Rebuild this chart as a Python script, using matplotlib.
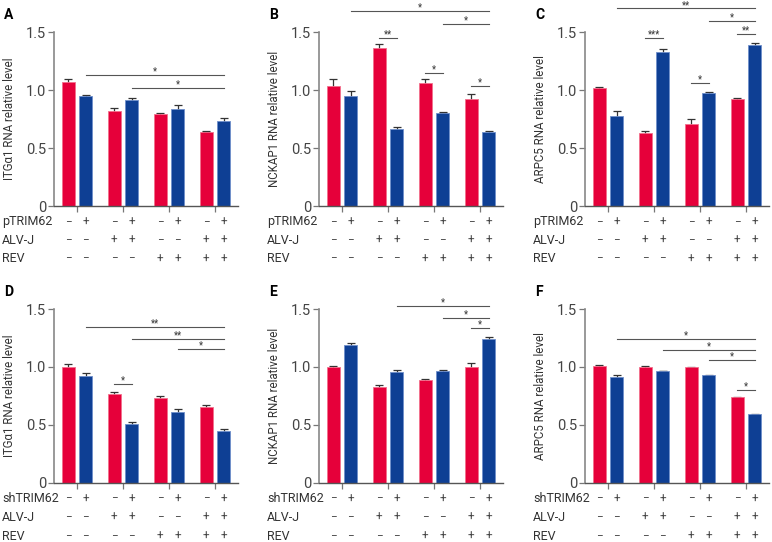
import numpy as np
import matplotlib
matplotlib.use("Agg")
import matplotlib.pyplot as plt

plt.rcParams["font.family"] = ["Roboto", "DejaVu Sans"]

# bar order per panel: G1 red, G1 blue, G2 red, G2 blue, ... (red = -, blue = +)
vals_A = [1.067, 0.949, 0.820, 0.912, 0.789, 0.835, 0.642, 0.734]
errs_A = [0.026, 0.006, 0.029, 0.023, 0.011, 0.037, 0.002, 0.023]
vals_B = [1.035, 0.949, 1.359, 0.662, 1.061, 0.806, 0.923, 0.634]
errs_B = [0.058, 0.040, 0.035, 0.015, 0.032, 0.006, 0.041, 0.014]
vals_C = [1.015, 0.780, 0.628, 1.331, 0.703, 0.972, 0.923, 1.385]
errs_C = [0.009, 0.037, 0.017, 0.020, 0.051, 0.012, 0.009, 0.017]
vals_D = [1.002, 0.919, 0.767, 0.507, 0.730, 0.616, 0.653, 0.447]
errs_D = [0.026, 0.031, 0.017, 0.023, 0.017, 0.020, 0.020, 0.017]
vals_E = [0.996, 1.191, 0.830, 0.959, 0.887, 0.962, 1.002, 1.242]
errs_E = [0.009, 0.017, 0.012, 0.014, 0.012, 0.008, 0.034, 0.015]
vals_F = [1.011, 0.916, 0.999, 0.965, 0.996, 0.928, 0.739, 0.593]
errs_F = [0.008, 0.012, 0.006, 0.003, 0.006, 0.005, 0.005, 0.005]

# significance brackets: (bar_from, bar_to, height, label)
sig_A = [(1, 7, 1.127, "*"), (3, 7, 1.015, "*")]
sig_B = [(1, 7, 1.678, "*"), (5, 7, 1.566, "*"), (2, 3, 1.448, "**"),
         (4, 5, 1.150, "*"), (6, 7, 1.035, "*")]
sig_C = [(1, 7, 1.703, "**"), (5, 7, 1.592, "*"), (2, 3, 1.448, "***"),
         (6, 7, 1.486, "**"), (4, 5, 1.058, "*")]
sig_D = [(1, 7, 1.343, "**"), (3, 7, 1.245, "**"), (5, 7, 1.157, "*"),
         (2, 3, 0.853, "*")]
sig_E = [(3, 7, 1.523, "*"), (5, 7, 1.426, "*"), (6, 7, 1.337, "*")]
sig_F = [(1, 7, 1.245, "*"), (3, 7, 1.148, "*"), (5, 7, 1.059, "*"),
         (6, 7, 0.804, "*")]

ylabels = ["ITG\u03b11 RNA relative level", "NCKAP1 RNA relative level",
           "ARPC5 RNA relative level"]
letters = ["A", "B", "C", "D", "E", "F"]

row_treat_top = ["pTRIM62", "ALV-J", "REV"]
row_treat_bot = ["shTRIM62", "ALV-J", "REV"]
signs = [["\u2212", "+", "\u2212", "+", "\u2212", "+", "\u2212", "+"],
         ["\u2212", "\u2212", "+", "+", "\u2212", "\u2212", "+", "+"],
         ["\u2212", "\u2212", "\u2212", "\u2212", "+", "+", "+", "+"]]

RED = "#E6003A"
BLUE = "#0E3F94"
W, H = 772, 542

fig = plt.figure(figsize=(W / 100, H / 100), dpi=100)

panels = [
    (vals_A, errs_A, sig_A, 0, 0), (vals_B, errs_B, sig_B, 0, 1),
    (vals_C, errs_C, sig_C, 0, 2), (vals_D, errs_D, sig_D, 1, 0),
    (vals_E, errs_E, sig_E, 1, 1), (vals_F, errs_F, sig_F, 1, 2),
]
lefts = [54, 319, 585]
bottoms = [206, 483]  # pixel y of the zero line, from top
ax_w, ax_h = 184, 174

groups = np.arange(4)
xs = np.ravel(np.column_stack([groups - 0.19, groups + 0.19]))
colors = [RED, BLUE] * 4
edges = ["#F2708C", "#6F8FCB"] * 4

for k, (vals, errs, sigs, r, c) in enumerate(panels):
    left = lefts[c] / W
    bottom = (H - bottoms[r]) / H
    ax = fig.add_axes([left, bottom, ax_w / W, ax_h / H])

    ax.errorbar(xs, vals, yerr=errs, fmt="none", ecolor="#333333",
                elinewidth=0.9, capsize=3, capthick=0.9, zorder=1)
    ax.bar(xs, vals, width=0.28, color=colors, edgecolor=edges,
           linewidth=0.6, zorder=2)

    ax.set_xlim(-0.5, 3.5)
    ax.set_ylim(0, 1.5)
    ax.set_yticks([0, 0.5, 1.0, 1.5])
    ax.set_yticklabels(["0", "0.5", "1.0", "1.5"])
    ax.set_xticks(groups)
    ax.set_xticklabels([])
    ax.tick_params(axis="y", length=4, width=0.9, color="#777777",
                   labelsize=10.5, labelcolor="#444444", pad=1.5)
    ax.tick_params(axis="x", length=4, width=0.9, color="#777777")
    for s in ["top", "right"]:
        ax.spines[s].set_visible(False)
    ax.spines["left"].set_color("#888888")
    ax.spines["left"].set_linewidth(1.2)
    ax.spines["bottom"].set_color("#555555")
    ax.spines["bottom"].set_linewidth(1.0)

    ax.set_ylabel(ylabels[c], fontsize=8.3, color="#333333")
    ax.yaxis.set_label_coords(-38 / ax_w, 0.5)

    ax.text(-50 / ax_w, 1 + 17 / ax_h, letters[k], transform=ax.transAxes,
            fontsize=10, fontweight="bold", ha="left", va="center")

    # significance brackets
    for i0, i1, h, lab in sigs:
        ax.plot([xs[i0], xs[i1]], [h, h], color="#555555", lw=0.8,
                clip_on=False, zorder=3)
        ax.text((xs[i0] + xs[i1]) / 2, h + 0.004, lab, ha="center",
                va="baseline", fontsize=7, color="#333333", clip_on=False)

    # treatment table
    names = row_treat_top if r == 0 else row_treat_bot
    for j, name in enumerate(names):
        yy = -(16 + 18.5 * j) / ax_h
        ax.text(-52 / ax_w, yy, name, transform=ax.transAxes, ha="left",
                va="center", fontsize=9, color="#333333")
        for x, sgn in zip(xs, signs[j]):
            ax.text(x, yy, sgn, transform=ax.get_xaxis_transform(),
                    ha="center", va="center", fontsize=8.5, color="#444444")

fig.savefig("out.png", dpi=100)
